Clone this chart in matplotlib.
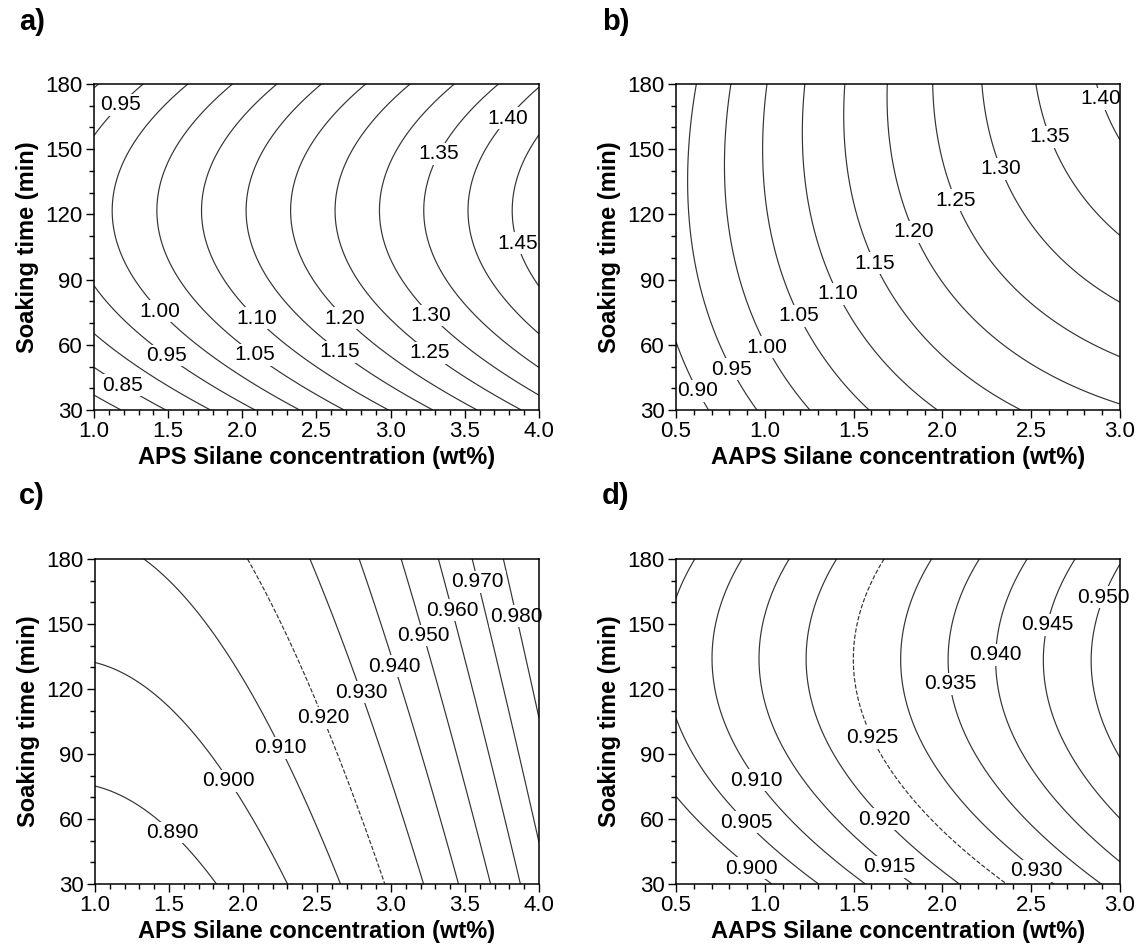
import numpy as np
import matplotlib
matplotlib.use('Agg')
import matplotlib.pyplot as plt
from matplotlib.ticker import MultipleLocator, FormatStrFormatter

plt.rcParams['font.family'] = ['Liberation Sans', 'DejaVu Sans']

# Quadratic response-surface coefficients, estimated from the contour lines:
# z = b0 + b1*x + b2*t + b11*x^2 + b22*t^2 + b12*x*t   (x = silane wt%, t = soaking time min)
coef_a = [0.444842, 0.164657, 0.00607445, 0.00040753, -2.49592e-05, 1.58313e-06]
coef_b = [0.716548, 0.215811, 0.00152196, -0.0279033, -6.5566e-06, 0.000450347]
coef_c = [0.881724, -0.0137773, 0.000186039, 0.00841104, -4.56993e-08, -1.18818e-06]
coef_d = [0.869278, 0.0192489, 0.000407017, -8.55338e-05, -1.51256e-06, -1.55184e-06]

# axis ranges
x_range_aps = [1.0, 4.0]
x_range_aaps = [0.5, 3.0]
t_range = [30, 180]

# contour levels
levels_a = [0.80, 0.85, 0.90, 0.95, 1.00, 1.05, 1.10, 1.15, 1.20, 1.25, 1.30, 1.35, 1.40, 1.45]
levels_b = [0.90, 0.95, 1.00, 1.05, 1.10, 1.15, 1.20, 1.25, 1.30, 1.35, 1.40]
levels_c = [0.890, 0.900, 0.910, 0.920, 0.930, 0.940, 0.950, 0.960, 0.970, 0.980]
levels_d = [0.900, 0.905, 0.910, 0.915, 0.920, 0.925, 0.930, 0.935, 0.940, 0.945, 0.950]
dashed_c = 0.920
dashed_d = 0.925

# where the contour labels sit (x, t)
lab_a = [(1.19, 169.7), (3.79, 164.3), (3.335, 147.4), (3.85, 106.6), (1.43, 74.3), (2.115, 73.6),
         (2.72, 74.3), (3.285, 74.3), (1.49, 55.1), (2.09, 55.9), (2.645, 55.9), (3.26, 55.9), (1.19, 41.3)]
lab_b = [(0.625, 39), (0.818, 48.9), (1.012, 58.9), (1.197, 73.6), (1.412, 83.6), (1.617, 97.4),
         (1.842, 112), (2.078, 126.6), (2.334, 141.2), (2.611, 155.9), (2.80, 170.5)]
lab_c = [(3.58, 169.3), (3.41, 156.3), (3.84, 153.5), (3.20, 144.3), (3.03, 130.6), (2.79, 118.3),
         (2.55, 107), (2.26, 93.2), (1.91, 77.9), (1.52, 53.7)]
lab_d = [(2.85, 164.3), (2.586, 149.7), (2.293, 135.8), (2.027, 122.3), (1.596, 97.4), (0.977, 79.2),
         (0.910, 59.7), (1.678, 60.5), (0.934, 38.2), (1.689, 36.6), (2.539, 37.4)]

xlabel_aps = 'APS Silane concentration (wt%)'
xlabel_aaps = 'AAPS Silane concentration (wt%)'
ylabel = 'Soaking time (min)'
panel_letters = ['a)', 'b)', 'c)', 'd)']

fig = plt.figure(figsize=(11.38, 9.52), dpi=100)
W, H = 1138.0, 952.0
positions = [[94 / W, 542 / H, 445 / W, 326 / H],
             [676 / W, 542 / H, 444 / W, 326 / H],
             [95 / W, 68 / H, 444 / W, 325 / H],
             [676 / W, 68 / H, 444 / W, 325 / H]]
letter_xy = [(19, 22), (602, 22), (19, 496), (602, 496)]

panels = [
    (coef_a, x_range_aps, levels_a, None, lab_a, '%.2f', xlabel_aps),
    (coef_b, x_range_aaps, levels_b, None, lab_b, '%.2f', xlabel_aaps),
    (coef_c, x_range_aps, levels_c, dashed_c, lab_c, '%.3f', xlabel_aps),
    (coef_d, x_range_aaps, levels_d, dashed_d, lab_d, '%.3f', xlabel_aaps),
]

line_col = '#333333'
for i, (cf, xr, lv, dash, labs, fmt, xl) in enumerate(panels):
    ax = fig.add_axes(positions[i])
    xs = np.linspace(xr[0], xr[1], 400)
    ts = np.linspace(t_range[0], t_range[1], 400)
    X, T = np.meshgrid(xs, ts)
    Z = cf[0] + cf[1] * X + cf[2] * T + cf[3] * X * X + cf[4] * T * T + cf[5] * X * T
    ls = ['--' if (dash is not None and abs(l - dash) < 1e-9) else '-' for l in lv]
    cs = ax.contour(X, T, Z, levels=lv, colors=line_col, linewidths=0.85, linestyles=ls, zorder=2)
    texts = ax.clabel(cs, levels=lv, fontsize=15, inline=False, fmt=fmt, colors='black',
                      manual=labs, zorder=2.2)
    for tx in texts:
        tx.set_rotation(0)
        tx.set_clip_on(False)
        tx.set_zorder(2.2)
        tx.set_bbox(dict(facecolor='white', edgecolor='none', pad=1.0))
    ax.set_xlim(xr)
    ax.set_ylim(t_range)
    ax.xaxis.set_major_locator(MultipleLocator(0.5))
    ax.xaxis.set_minor_locator(MultipleLocator(0.1))
    ax.yaxis.set_major_locator(MultipleLocator(30))
    ax.yaxis.set_minor_locator(MultipleLocator(10))
    ax.xaxis.set_major_formatter(FormatStrFormatter('%.1f'))
    ax.tick_params(which='both', direction='out', top=False, right=False,
                   labelsize=16, width=1.0, colors='black')
    ax.tick_params(which='major', length=6, pad=2)
    ax.tick_params(which='minor', length=3.5)
    for sp in ax.spines.values():
        sp.set_linewidth(1.1)
        sp.set_color('black')
        sp.set_zorder(3)
    ax.set_xlabel(xl, fontsize=17, fontweight='bold', labelpad=3)
    ax.set_ylabel(ylabel, fontsize=17, fontweight='bold', labelpad=5)
    fig.text(letter_xy[i][0] / W, 1 - letter_xy[i][1] / H, panel_letters[i],
             fontsize=21, fontweight='bold', ha='left', va='center')

fig.savefig('out.png', dpi=100)
